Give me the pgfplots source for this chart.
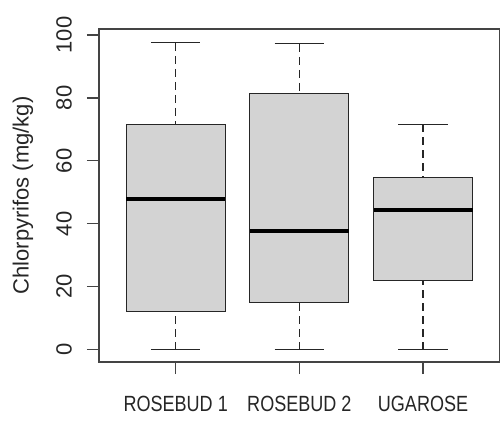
\documentclass[border=0pt]{standalone}
\usepackage{fontspec}
\setmainfont{Liberation Sans}
\newfontfamily\narrowfont{Liberation Sans}[FakeStretch=0.82]
\usepackage{pgfplots}
\pgfplotsset{compat=1.18}
\definecolor{boxfill}{HTML}{D3D3D3}
\definecolor{framecol}{HTML}{444444}
\definecolor{textcol}{HTML}{262626}
\begin{document}
\begin{tikzpicture}[x=1bp,y=1bp]
\useasboundingbox (0,0) rectangle (500,428);
\begin{axis}[
  at={(99bp,66bp)}, anchor=south west,
  scale only axis, width=400.7bp, height=333bp,
  xmin=0.38, xmax=3.62, ymin=-3.92, ymax=101.92,
  xtick={1,2,3}, xticklabels={ROSEBUD 1, ROSEBUD 2, UGAROSE},
  ytick={0,20,40,60,80,100},
  /pgf/number format/assume math mode=true,
  xtick align=outside, ytick align=outside, xtick pos=left, ytick pos=left,
  major tick length=12bp,
  axis line style={framecol, line width=1.1bp},
  xtick style={draw=framecol, line width=1.1bp},
  ytick style={draw=framecol, line width=1.1bp},
  tick label style={font=\fontsize{22bp}{26bp}\selectfont, text=textcol},
  xticklabel style={font=\narrowfont\fontsize{22bp}{26bp}\selectfont, anchor=north, inner sep=0pt, yshift=-22bp},
  yticklabel style={xshift=-15bp, rotate=90, anchor=south, inner sep=0pt},
  ylabel={Chlorpyrifos (mg/kg)},
  ylabel style={at={(axis description cs:-0.19,0.5)}, anchor=center, font=\fontsize{22bp}{26bp}\selectfont, text=textcol},
  whisk/.style={black!85, line width=1.1bp, dash pattern=on 8bp off 5bp, mark=none, forget plot},
  cap/.style={black!85, line width=1.1bp, solid, mark=none, forget plot},
  boxst/.style={fill=boxfill, draw=black!85, line width=1.1bp, solid, mark=none, forget plot},
  med/.style={black, line width=4bp, solid, mark=none, forget plot},
]
% dashed whiskers
\addplot[whisk] coordinates {(1,0) (1,12.1)};
\addplot[whisk] coordinates {(1,97.5) (1,71.7)};
\addplot[whisk] coordinates {(2,0) (2,15.0)};
\addplot[whisk] coordinates {(2,97.2) (2,81.5)};
\addplot[whisk] coordinates {(3,0) (3,22.1)};
\addplot[whisk] coordinates {(3,71.6) (3,54.6)};
% whisker caps
\addplot[cap] coordinates {(0.8,0) (1.2,0)};
\addplot[cap] coordinates {(0.8,97.5) (1.2,97.5)};
\addplot[cap] coordinates {(1.8,0) (2.2,0)};
\addplot[cap] coordinates {(1.8,97.2) (2.2,97.2)};
\addplot[cap] coordinates {(2.8,0) (3.2,0)};
\addplot[cap] coordinates {(2.8,71.6) (3.2,71.6)};
% boxes (lower quartile to upper quartile)
\addplot[boxst] coordinates {(0.6,12.1) (1.4,12.1) (1.4,71.7) (0.6,71.7)} --cycle;
\addplot[boxst] coordinates {(1.6,15.0) (2.4,15.0) (2.4,81.5) (1.6,81.5)} --cycle;
\addplot[boxst] coordinates {(2.6,22.1) (3.4,22.1) (3.4,54.6) (2.6,54.6)} --cycle;
% medians
\addplot[med] coordinates {(0.6,48.0) (1.4,48.0)};
\addplot[med] coordinates {(1.6,37.6) (2.4,37.6)};
\addplot[med] coordinates {(2.6,44.3) (3.4,44.3)};
\end{axis}
\end{tikzpicture}
\end{document}
